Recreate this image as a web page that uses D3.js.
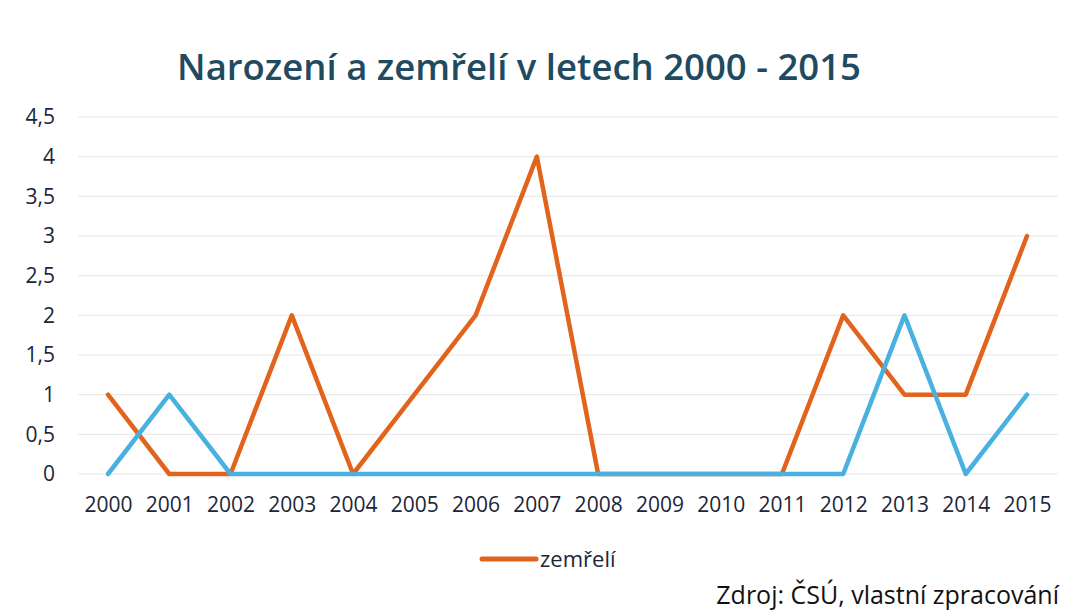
<!DOCTYPE html>
<html>
<head>
<meta charset="utf-8">
<script src="https://cdn.jsdelivr.net/npm/d3@7"></script>
<style>
  body { margin: 0; background: #fff; }
  svg { display: block; }
  text { font-family: "Open Sans", "Noto Sans", sans-serif; }
</style>
</head>
<body>
<svg id="chart" width="1075" height="612"></svg>
<script>
// data
const years = ["2000","2001","2002","2003","2004","2005","2006","2007","2008","2009","2010","2011","2012","2013","2014","2015"];
const narozeni = [0,1,0,0,0,0,0,0,0,0,0,0,0,2,0,1];
const zemreli  = [1,0,0,2,0,1,2,4,0,0,0,0,2,1,1,3];
const yTicks = [0,0.5,1,1.5,2,2.5,3,3.5,4,4.5];

const svg = d3.select("#chart");

const x = d3.scalePoint().domain(years).range([108, 1027]);
const y = d3.scaleLinear().domain([0, 4.5]).range([474, 117]);

// title
svg.append("text")
  .attr("x", 519).attr("y", 80)
  .attr("text-anchor", "middle")
  .attr("font-size", 36.5)
  .attr("font-weight", 600)
  .attr("fill", "#1f4a60")
  .text("Narození a zemřelí v letech 2000 - 2015");

// gridlines
svg.append("g")
  .selectAll("line")
  .data(yTicks)
  .enter().append("line")
  .attr("x1", 78).attr("x2", 1058)
  .attr("y1", d => y(d)).attr("y2", d => y(d))
  .attr("stroke", "#e6e6e6")
  .attr("stroke-width", 1);

// y axis
const yAxis = d3.axisLeft(y).tickValues(yTicks).tickSize(0).tickPadding(0)
  .tickFormat(d => String(d).replace(".", ","));
svg.append("g")
  .attr("transform", "translate(55,0)")
  .call(yAxis)
  .call(g => g.select(".domain").remove())
  .selectAll("text")
  .attr("font-size", 21)
  .attr("fill", "#1b2638")
  .attr("font-family", "'Open Sans', sans-serif");

// x axis
const xAxis = d3.axisBottom(x).tickSize(0).tickPadding(0);
svg.append("g")
  .attr("transform", "translate(0,497)")
  .call(xAxis)
  .call(g => g.select(".domain").remove())
  .selectAll("text")
  .attr("font-size", 21)
  .attr("fill", "#1b2638")
  .attr("font-family", "'Open Sans', sans-serif");

const line = d3.line()
  .x((d, i) => x(years[i]))
  .y(d => y(d));

svg.append("path")
  .datum(zemreli)
  .attr("d", line)
  .attr("fill", "none")
  .attr("stroke", "#e2631c")
  .attr("stroke-width", 4.5)
  .attr("stroke-linejoin", "round")
  .attr("stroke-linecap", "round");

svg.append("path")
  .datum(narozeni)
  .attr("d", line)
  .attr("fill", "none")
  .attr("stroke", "#48b1e2")
  .attr("stroke-width", 4.5)
  .attr("stroke-linejoin", "round")
  .attr("stroke-linecap", "round");

// legend
svg.append("line")
  .attr("x1", 482).attr("x2", 536)
  .attr("y1", 559).attr("y2", 559)
  .attr("stroke", "#e2631c")
  .attr("stroke-width", 5)
  .attr("stroke-linecap", "round");
svg.append("text")
  .attr("x", 540).attr("y", 567)
  .attr("font-size", 22)
  .attr("fill", "#1b2638")
  .text("zemřelí");

// source
svg.append("text")
  .attr("x", 1059).attr("y", 604)
  .attr("text-anchor", "end")
  .attr("font-size", 25)
  .attr("fill", "#111")
  .text("Zdroj: ČSÚ, vlastní zpracování");
</script>
</body>
</html>
